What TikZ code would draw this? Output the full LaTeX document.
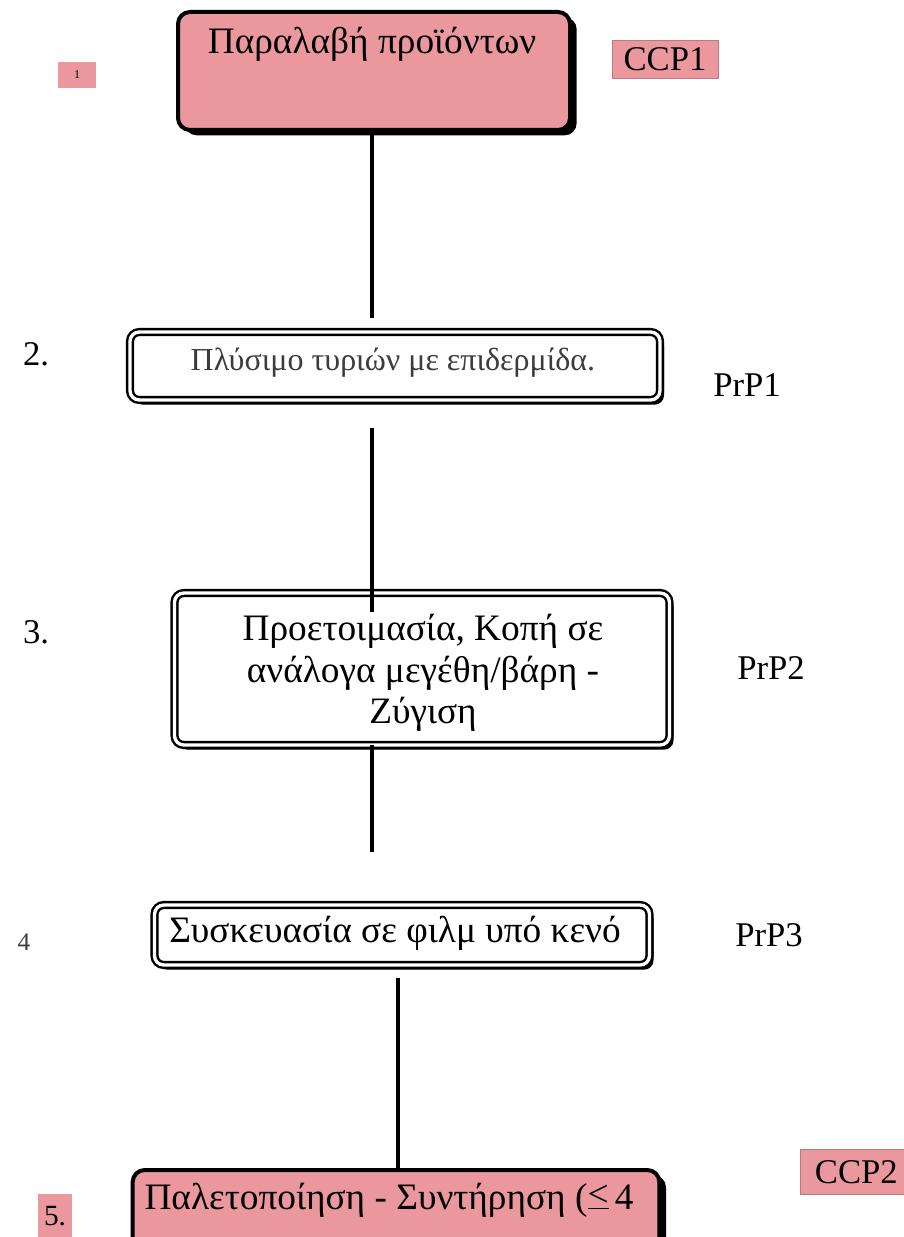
\documentclass[tikz,border=0pt]{standalone}
\usepackage{fontspec}
\setmainfont{Liberation Serif}
\usetikzlibrary{shadows}
\definecolor{ccppink}{RGB}{234,152,157}
\definecolor{softgray}{RGB}{60,60,60}
\begin{document}
\begin{tikzpicture}[x=0.75pt,y=-0.75pt,
  every node/.style={inner sep=0pt, outer sep=0pt, font=\fontsize{26}{30}\selectfont},
  boxtext/.style={font=\fontsize{28}{33}\selectfont, align=center},
  pinkstep/.style={draw=black, line width=3pt, fill=ccppink, rounded corners=9pt,
    general shadow={fill=black, shadow xshift=5pt, shadow yshift=-4pt}},
  framestep/.style={draw=black, line width=1.8pt, double=white, double distance=2.5pt,
    fill=white, rounded corners=7pt,
    general shadow={fill=black, shadow xshift=3pt, shadow yshift=-3.5pt}},
  tag/.style={fill=ccppink, draw=ccppink!80!black, line width=0.4pt},
  flow/.style={line width=3pt, black}
]
\useasboundingbox (0,0) rectangle (903,1237);
\fill[white] (0,0) rectangle (903,1237);

% step 1
\node[pinkstep, minimum width=294pt, minimum height=88.5pt] (b1) at (374,71) {};
\node[boxtext] (t1) at (372,44) {Παραλαβή προϊόντων};
\node[tag, minimum width=79.5pt, minimum height=28.5pt] (ccp1) at (665,59) {CCP1};
\node[tag, draw=none, minimum width=28.5pt, minimum height=19.5pt, font=\fontsize{9}{10}\selectfont] (n1) at (77,75) {1};

% step 2
\node[framestep, minimum width=397.5pt, minimum height=51pt] (b2) at (395,366) {};
\node[font=\fontsize{24}{28}\selectfont\color{softgray}] (t2) at (393,363) {Πλύσιμο τυριών με επιδερμίδα.};
\node (n2) at (36,354) {2.};
\node (p1) at (747,385) {PrP1};

% step 3
\node[framestep, minimum width=371.25pt, minimum height=114pt] (b3) at (422,669) {};
\node[boxtext, font=\fontsize{28}{31}\selectfont] (t3) at (423,673) {Προετοιμασία, Κοπή σε\\ανάλογα μεγέθη/βάρη -\\Ζύγιση};
\node (n3) at (36,632) {3.};
\node (p2) at (771,668) {PrP2};

% step 4
\node[framestep, minimum width=371.25pt, minimum height=45pt] (b4) at (402,935) {};
\node[boxtext] (t4) at (395,933) {Συσκευασία σε φιλμ υπό κενό};
\node[font=\fontsize{19}{22}\selectfont\color{softgray}] (n4) at (24,942) {4};
\node (p3) at (769,935) {PrP3};

% step 5
\node[pinkstep, minimum width=395pt, minimum height=60pt] (b5) at (396,1210) {};
\node[boxtext] (t5) at (389,1200) {Παλετοποίηση - Συντήρηση (\raisebox{0.08em}{\underline{<}}\,4};
\node[tag, minimum width=82.5pt, minimum height=33.75pt, anchor=west] (ccp2) at (800,1172) {\hspace*{2pt}CCP2\hfill};
\node[tag, draw=none, minimum width=25.5pt, minimum height=33pt, font=\fontsize{22}{24}\selectfont] (n5) at (55,1216) {5.};

% connectors
\coordinate (e1) at (372,318);
\coordinate (s2) at (372,428);
\coordinate (e2) at (372,612);
\coordinate (e3) at (372,852);
\coordinate (s4) at (398,978);
\draw[flow] (b1.south -| e1) -- (e1);
\draw[flow] (s2) -- (e2);
\draw[flow] (b3.south -| e3) -- (e3);
\draw[flow] (s4) -- (s4 |- b5.north);
\end{tikzpicture}
\end{document}
